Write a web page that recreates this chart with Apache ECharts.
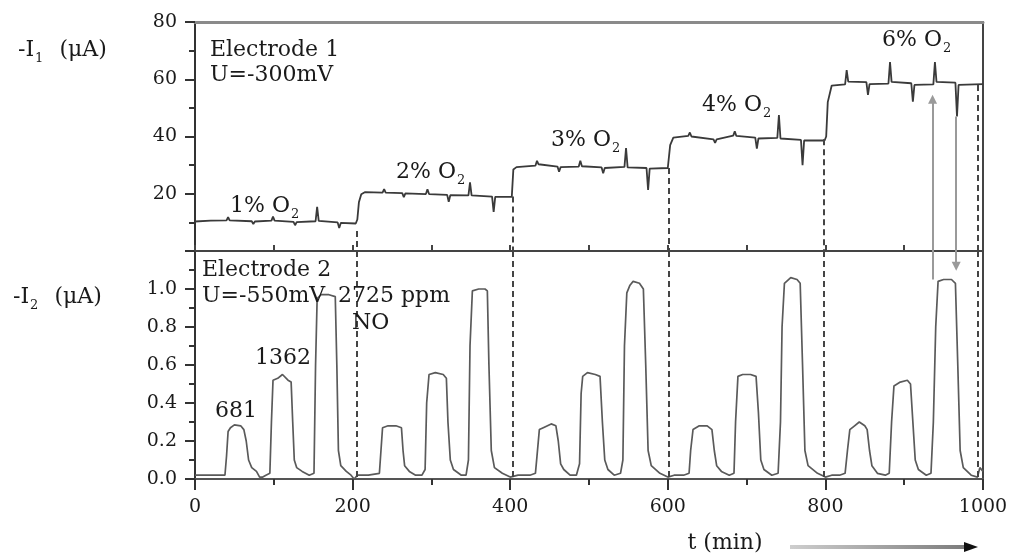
<!DOCTYPE html>
<html>
<head>
<meta charset="utf-8">
<script src="https://cdn.jsdelivr.net/npm/echarts@6/dist/echarts.min.js"></script>
<style>
  html, body { margin: 0; padding: 0; background: #fff; }
  #chart { width: 1014px; height: 554px; }
</style>
</head>
<body>
<div id="chart"></div>
<script>
// electrode 1 current (-I1, uA), one array per O2 level
const i1Pct1 = [[0,10.3],[20,10.6],[40,10.7],[42,11.8],[44,10.7],[72,10.4],[74,9.4],[76,10.3],[97,10.6],[99,12.0],[101,10.6],[125,10.2],[127,9.0],[129,10.1],[153,10.4],[155,15.4],[157,10.5],[181,10.0],[183,8.0],[185,9.8],[204,9.6]];
const i1Pct2 = [[206,11],[208,17],[211,19.8],[216,20.6],[238,20.4],[240,21.6],[242,20.4],[263,20.2],[265,18.8],[267,20.1],[293,19.9],[295,21.6],[297,19.9],[320,19.6],[322,17.2],[324,19.5],[347,19.4],[349,24.0],[351,19.4],[377,19.0],[379,13.7],[381,18.9],[402,18.9]];
const i1Pct3 = [[404,28.5],[408,29.3],[432,29.8],[434,31.5],[436,30.3],[460,29.5],[462,27.7],[464,29.3],[487,29.5],[489,31.5],[491,29.6],[516,29.2],[518,27.2],[520,29.0],[545,29.4],[547,36.0],[549,29.2],[573,29.0],[575,21.3],[577,28.8],[600,29.0]];
const i1Pct4 = [[603,37],[607,39.6],[626,40.2],[628,41.4],[630,40.0],[658,39.0],[660,37.8],[662,39.0],[683,40.3],[685,41.8],[687,40.2],[711,39.6],[713,35.8],[715,39.3],[739,39.5],[741,47.5],[743,39.3],[769,38.8],[771,30.0],[773,38.6],[799,38.6]];
const i1Pct6 = [[801,40],[803,52],[808,57.8],[825,58.2],[827,63.2],[829,59.2],[852,59.0],[854,54.5],[856,58.3],[880,58.5],[882,66.0],[884,59.1],[909,58.6],[911,52.2],[913,58.0],[937,58.2],[939,66.0],[941,59.1],[965,58.8],[967,47.0],[969,58.0],[1000,58.3]];

// electrode 2 current (-I2, uA), NO pulses 681 / 1362 / 2725 ppm per cycle
const i2Cycle1 = [[0,0.02],[20,0.02],[38,0.02],[40,0.12],[42,0.25],[45,0.27],[50,0.285],[58,0.28],[62,0.26],[65,0.2],[68,0.1],[72,0.06],[78,0.04],[82,0.01],[86,0.01],[90,0.02],[95,0.03],[97,0.3],[99,0.52],[105,0.53],[111,0.55],[118,0.52],[122,0.51],[124,0.3],[126,0.1],[129,0.06],[136,0.04],[145,0.02],[151,0.03],[153,0.6],[155,0.95],[160,0.97],[170,0.97],[178,0.96],[180,0.6],[182,0.15],[185,0.07],[192,0.04],[198,0.02],[202,0.0],[206,0.02]];
const i2Cycle2 = [[220,0.02],[234,0.03],[236,0.15],[238,0.27],[245,0.28],[255,0.28],[262,0.27],[264,0.15],[266,0.07],[272,0.04],[280,0.02],[288,0.02],[292,0.05],[294,0.4],[297,0.55],[305,0.56],[315,0.55],[319,0.53],[321,0.3],[324,0.1],[328,0.05],[338,0.02],[344,0.02],[347,0.1],[349,0.7],[352,0.99],[360,1.0],[368,1.0],[371,0.99],[373,0.6],[376,0.15],[380,0.06],[390,0.03],[400,0.01],[410,0.02]];
const i2Cycle3 = [[425,0.02],[432,0.03],[434,0.12],[437,0.26],[442,0.27],[452,0.29],[458,0.28],[461,0.2],[464,0.08],[468,0.05],[476,0.02],[484,0.02],[488,0.08],[490,0.45],[492,0.54],[498,0.56],[508,0.55],[514,0.54],[517,0.3],[520,0.1],[524,0.05],[532,0.02],[540,0.03],[543,0.1],[545,0.7],[548,0.98],[552,1.02],[556,1.04],[564,1.03],[569,1.0],[572,0.6],[575,0.15],[579,0.07],[590,0.03],[600,0.01],[608,0.02]];
const i2Cycle4 = [[620,0.02],[627,0.03],[629,0.15],[632,0.26],[640,0.28],[650,0.28],[656,0.26],[659,0.15],[662,0.07],[668,0.04],[678,0.02],[684,0.03],[686,0.3],[689,0.54],[695,0.55],[705,0.55],[712,0.54],[715,0.35],[718,0.1],[722,0.05],[732,0.02],[740,0.03],[743,0.3],[745,0.8],[748,1.03],[756,1.06],[764,1.05],[768,1.03],[771,0.6],[774,0.15],[778,0.07],[790,0.03],[800,0.01],[808,0.02]];
const i2Cycle5 = [[818,0.02],[825,0.03],[828,0.15],[831,0.26],[837,0.28],[843,0.30],[850,0.28],[853,0.26],[856,0.15],[859,0.07],[866,0.03],[876,0.02],[881,0.03],[884,0.3],[887,0.49],[895,0.51],[904,0.52],[908,0.5],[911,0.3],[914,0.1],[918,0.05],[928,0.02],[934,0.03],[937,0.3],[940,0.8],[943,1.04],[950,1.05],[960,1.05],[965,1.03],[968,0.6],[971,0.15],[975,0.06],[985,0.02],[993,0.01],[996,0.06],[1000,0.04]];

// gas switch times (dashed lines) and the I1 level each one drops from
const switchTimes = [205, 403, 601, 798, 993];
const switchTops = [7, 19, 29, 39, 58];

// arrows linking the last I1 spikes to the last NO pulse
const arrowTimes = [936, 966];
const arrowTopI1 = [53, 47];
const arrowEndI2 = [1.05, 1.12];

const xTicks1 = [0, 1000, 100];
const xTicks2 = [0, 1000, 200];
const yTicks1 = [0, 80, 20];
const yTicks2 = [0, 1.2, 0.2];

const serif = 'DejaVu Serif';
const ink = '#1a1a1a';

const myChart = echarts.init(document.getElementById('chart'));

function sub(main, s, tail) {
    return '{m|' + main + '}{s|' + s + '}' + (tail ? '{m|' + tail + '}' : '');
}
const richSub = {
    m: { fontFamily: serif, fontSize: 22, lineHeight: 30, color: ink },
    s: { fontFamily: serif, fontSize: 13, lineHeight: 14, verticalAlign: 'bottom', color: ink, padding: [0, 2, 0, 1] }
};
function label(x, y, text, rich) {
    return {
        type: 'text', x: x, y: y, z: 100, silent: true,
        style: { text: text, fill: ink, font: '22px "' + serif + '"', verticalAlign: 'middle', rich: rich }
    };
}

const dashStyle = { type: [6, 4], color: '#444', width: 2 };
const arrowStyle = { type: 'solid', color: '#9a9a9a', width: 2 };

const topMarks = switchTimes.map((t, i) => [
    { coord: [t, switchTops[i]], lineStyle: dashStyle },
    { coord: [t, 0] }
]).concat([
    [{ coord: [arrowTimes[0], arrowTopI1[0]], lineStyle: arrowStyle, symbol: 'triangle', symbolSize: 9 }, { coord: [arrowTimes[0], 0] }],
    [{ coord: [arrowTimes[1], arrowTopI1[1]], lineStyle: arrowStyle }, { coord: [arrowTimes[1], 0] }]
]);
const botMarks = switchTimes.map(t => [
    { coord: [t, 1.2], lineStyle: dashStyle },
    { coord: [t, 0] }
]).concat([
    [{ coord: [arrowTimes[0], 1.2], lineStyle: arrowStyle }, { coord: [arrowTimes[0], arrowEndI2[0]] }],
    [{ coord: [arrowTimes[1], 1.2], lineStyle: arrowStyle }, { coord: [arrowTimes[1], arrowEndI2[1]], symbol: 'triangle', symbolSize: 9 }]
]);

const axisText = { fontFamily: serif, fontSize: 19, color: ink };

let option = {
    animation: false,
    grid: [
        { left: 195, top: 22, width: 788, height: 229 },
        { left: 195, top: 251, width: 788, height: 228 }
    ],
    xAxis: [
        {
            gridIndex: 0, type: 'value', min: xTicks1[0], max: xTicks1[1], interval: xTicks1[2], position: 'bottom',
            axisLine: { onZero: false, lineStyle: { color: '#444', width: 2 } },
            axisTick: { inside: true, length: 6, lineStyle: { color: '#444', width: 2 } },
            axisLabel: { show: false }, splitLine: { show: false }
        },
        {
            gridIndex: 0, type: 'value', min: 0, max: 1000, position: 'top',
            axisLine: { onZero: false, lineStyle: { color: '#8a8a8a', width: 3 } },
            axisTick: { show: false }, axisLabel: { show: false }, splitLine: { show: false }
        },
        {
            gridIndex: 1, type: 'value', min: xTicks2[0], max: xTicks2[1], interval: xTicks2[2], position: 'bottom',
            axisLine: { onZero: false, lineStyle: { color: '#555', width: 2 } },
            axisTick: { length: 11, lineStyle: { color: '#333', width: 2 } },
            minorTick: { show: true, splitNumber: 2, length: 6, lineStyle: { color: '#333', width: 2 } },
            axisLabel: Object.assign({ margin: 19, formatter: v => String(v) }, axisText),
            splitLine: { show: false }
        }
    ],
    yAxis: [
        {
            gridIndex: 0, type: 'value', min: yTicks1[0], max: yTicks1[1], interval: yTicks1[2],
            axisLine: { show: true, onZero: false, lineStyle: { color: '#333', width: 2 } },
            axisTick: { show: true, length: 10, lineStyle: { color: '#333', width: 2 } },
            minorTick: { show: true, splitNumber: 2, length: 6, lineStyle: { color: '#333', width: 2 } },
            axisLabel: Object.assign({ margin: 18, formatter: v => (v === 0 ? '' : String(v)) }, axisText),
            splitLine: { show: false }
        },
        {
            gridIndex: 0, type: 'value', min: 0, max: 80, position: 'right',
            axisLine: { show: true, onZero: false, lineStyle: { color: '#444', width: 2 } },
            axisTick: { show: false }, axisLabel: { show: false }, splitLine: { show: false }
        },
        {
            gridIndex: 1, type: 'value', min: yTicks2[0], max: yTicks2[1], interval: yTicks2[2],
            axisLine: { show: true, onZero: false, lineStyle: { color: '#333', width: 2 } },
            axisTick: { show: true, length: 10, lineStyle: { color: '#333', width: 2 } },
            minorTick: { show: true, splitNumber: 2, length: 6, lineStyle: { color: '#333', width: 2 } },
            axisLabel: Object.assign({ margin: 18, formatter: v => (v > 1.05 ? '' : v.toFixed(1)) }, axisText),
            splitLine: { show: false }
        },
        {
            gridIndex: 1, type: 'value', min: 0, max: 1.2, position: 'right',
            axisLine: { show: true, onZero: false, lineStyle: { color: '#444', width: 2 } },
            axisTick: { show: false }, axisLabel: { show: false }, splitLine: { show: false }
        }
    ],
    series: [
        {
            name: 'I1', type: 'line', xAxisIndex: 0, yAxisIndex: 0, showSymbol: false, silent: true,
            lineStyle: { color: '#3a3a3a', width: 1.8 },
            data: [].concat(i1Pct1, i1Pct2, i1Pct3, i1Pct4, i1Pct6),
            markLine: { silent: true, animation: false, symbol: ['none', 'none'], label: { show: false }, data: topMarks }
        },
        {
            name: 'I2', type: 'line', xAxisIndex: 2, yAxisIndex: 2, showSymbol: false, silent: true,
            lineStyle: { color: '#5a5a5a', width: 1.7 },
            data: [].concat(i2Cycle1, i2Cycle2, i2Cycle3, i2Cycle4, i2Cycle5),
            markLine: { silent: true, animation: false, symbol: ['none', 'none'], label: { show: false }, data: botMarks }
        }
    ],
    graphic: [
        label(18, 50, sub('-I', '1', '  (μA)'), richSub),
        label(13, 297, sub('-I', '2', '  (μA)'), richSub),
        label(210, 50, 'Electrode 1'),
        label(210, 75, 'U=-300mV'),
        label(230, 206, sub('1% O', '2'), richSub),
        label(396, 172, sub('2% O', '2'), richSub),
        label(551, 140, sub('3% O', '2'), richSub),
        label(702, 105, sub('4% O', '2'), richSub),
        label(882, 40, sub('6% O', '2'), richSub),
        label(202, 270, 'Electrode 2'),
        label(202, 296, 'U=-550mV'),
        label(338, 296, '2725 ppm'),
        label(352, 323, 'NO'),
        label(255, 358, '1362'),
        label(215, 411, '681'),
        {
            type: 'text', x: 725, y: 543, z: 100, silent: true,
            style: { text: 't (min)', fill: ink, font: '22px "' + serif + '"', align: 'center', verticalAlign: 'middle' }
        },
        {
            type: 'line', z: 100, silent: true,
            shape: { x1: 790, y1: 547, x2: 968, y2: 547 },
            style: {
                lineWidth: 4,
                stroke: new echarts.graphic.LinearGradient(0, 0, 1, 0, [
                    { offset: 0, color: '#cfcfcf' }, { offset: 1, color: '#7a7a7a' }
                ])
            }
        },
        {
            type: 'polygon', z: 100, silent: true,
            shape: { points: [[964, 542], [978, 547], [964, 552]] },
            style: { fill: '#111' }
        }
    ]
};

option && myChart.setOption(option);
</script>
</body>
</html>
